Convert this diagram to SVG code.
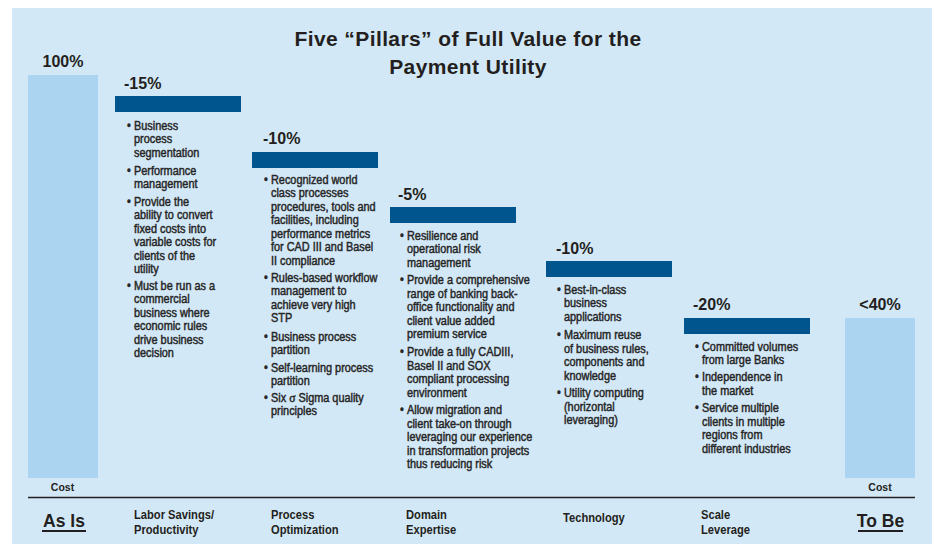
<svg xmlns="http://www.w3.org/2000/svg" width="934" height="546" viewBox="0 0 934 546">
  <defs>
    <style>
      .panel { fill: #D3E8F6; }
      .cost { fill: #AAD4EF; }
      .cut { fill: #00558F; }
      .title { font-family: "Liberation Sans", Arial, sans-serif; font-weight: bold; font-size: 21px; fill: #231F20; text-anchor: middle; letter-spacing: 0.4px; }
      .pct { font-family: "Liberation Sans", Arial, sans-serif; font-weight: bold; font-size: 16px; fill: #231F20; }
      .mid { text-anchor: middle; }
      .txt { font-family: "Liberation Sans", Arial, sans-serif; font-size: 12.1px; fill: #262626; stroke: #262626; stroke-width: 0.45px; }
      .small { font-family: "Liberation Sans", Arial, sans-serif; font-weight: bold; font-size: 10.5px; fill: #231F20; text-anchor: middle; }
      .label { font-family: "Liberation Sans", Arial, sans-serif; font-weight: bold; font-size: 13px; fill: #231F20; }
      .state { font-family: "Liberation Sans", Arial, sans-serif; font-weight: bold; font-size: 17.5px; fill: #231F20; text-anchor: middle; }
      .rule { stroke: #231F20; fill: none; }
      .sym { font-family: "Liberation Serif", serif; font-size: 13px; }
    </style>
  </defs>

  <rect class="panel" x="12" y="8" width="920" height="536"/>

  <g id="title">
    <text class="title" x="468" y="46">Five “Pillars” of Full Value for the</text>
    <text class="title" x="468" y="74">Payment Utility</text>
  </g>

  <g id="as-is">
    <text class="pct mid" x="63" y="66.5">100%</text>
    <rect class="cost" x="28" y="75" width="70" height="403"/>
    <text class="small" x="62.5" y="491">Cost</text>
    <text class="state" x="64" y="527">As Is</text>
    <line class="rule" x1="42" y1="531" x2="86" y2="531" stroke-width="2"/>
  </g>

  <g id="labor-savings">
    <text class="pct" x="124" y="88.5">-15%</text>
    <rect class="cut" x="115" y="96" width="126" height="16"/>
    <g class="txt" transform="translate(134,0) scale(0.9,1) translate(-134,0)">
      <text x="126.2" y="130">•</text>
      <text x="134" y="130">Business</text>
      <text x="134" y="143.5">process</text>
      <text x="134" y="157">segmentation</text>
      <text x="126.2" y="175">•</text>
      <text x="134" y="175">Performance</text>
      <text x="134" y="188.5">management</text>
      <text x="126.2" y="206">•</text>
      <text x="134" y="206">Provide the</text>
      <text x="134" y="219.5">ability to convert</text>
      <text x="134" y="233">fixed costs into</text>
      <text x="134" y="246.5">variable costs for</text>
      <text x="134" y="260">clients of the</text>
      <text x="134" y="273.5">utility</text>
      <text x="126.2" y="290">•</text>
      <text x="134" y="290">Must be run as a</text>
      <text x="134" y="303.5">commercial</text>
      <text x="134" y="317">business where</text>
      <text x="134" y="330.5">economic rules</text>
      <text x="134" y="344">drive business</text>
      <text x="134" y="357.5">decision</text>
    </g>
    <g class="label" transform="translate(134,0) scale(0.86,1) translate(-134,0)">
      <text x="134" y="519">Labor Savings/</text>
      <text x="134" y="534">Productivity</text>
    </g>
  </g>

  <g id="process-optimization">
    <text class="pct" x="263" y="143.5">-10%</text>
    <rect class="cut" x="252" y="152" width="126" height="16"/>
    <g class="txt" transform="translate(271,0) scale(0.9,1) translate(-271,0)">
      <text x="263.2" y="184">•</text>
      <text x="271" y="184">Recognized world</text>
      <text x="271" y="197.5">class processes</text>
      <text x="271" y="211">procedures, tools and</text>
      <text x="271" y="224.5">facilities, including</text>
      <text x="271" y="238">performance metrics</text>
      <text x="271" y="251.5">for CAD III and Basel</text>
      <text x="271" y="265">II compliance</text>
      <text x="263.2" y="282">•</text>
      <text x="271" y="282">Rules-based workflow</text>
      <text x="271" y="295.5">management to</text>
      <text x="271" y="309">achieve very high</text>
      <text x="271" y="322.5">STP</text>
      <text x="263.2" y="341">•</text>
      <text x="271" y="341">Business process</text>
      <text x="271" y="354.5">partition</text>
      <text x="263.2" y="372">•</text>
      <text x="271" y="372">Self-learning process</text>
      <text x="271" y="385.5">partition</text>
      <text x="263.2" y="402">•</text>
      <text x="271" y="402">Six <tspan class="sym">σ</tspan> Sigma quality</text>
      <text x="271" y="415.5">principles</text>
    </g>
    <g class="label" transform="translate(271,0) scale(0.86,1) translate(-271,0)">
      <text x="271" y="519">Process</text>
      <text x="271" y="534">Optimization</text>
    </g>
  </g>

  <g id="domain-expertise">
    <text class="pct" x="398" y="199.5">-5%</text>
    <rect class="cut" x="390" y="207" width="126" height="16"/>
    <g class="txt" transform="translate(407,0) scale(0.9,1) translate(-407,0)">
      <text x="399.2" y="240">•</text>
      <text x="407" y="240">Resilience and</text>
      <text x="407" y="253.5">operational risk</text>
      <text x="407" y="267">management</text>
      <text x="399.2" y="284.5">•</text>
      <text x="407" y="284.5">Provide a comprehensive</text>
      <text x="407" y="298">range of banking back-</text>
      <text x="407" y="311.5">office functionality and</text>
      <text x="407" y="325">client value added</text>
      <text x="407" y="338.5">premium service</text>
      <text x="399.2" y="356.5">•</text>
      <text x="407" y="356.5">Provide a fully CADIII,</text>
      <text x="407" y="370">Basel II and SOX</text>
      <text x="407" y="383.5">compliant processing</text>
      <text x="407" y="397">environment</text>
      <text x="399.2" y="414.5">•</text>
      <text x="407" y="414.5">Allow migration and</text>
      <text x="407" y="428">client take-on through</text>
      <text x="407" y="441.5">leveraging our experience</text>
      <text x="407" y="455">in transformation projects</text>
      <text x="407" y="468.5">thus reducing risk</text>
    </g>
    <g class="label" transform="translate(406,0) scale(0.86,1) translate(-406,0)">
      <text x="406" y="519">Domain</text>
      <text x="406" y="534">Expertise</text>
    </g>
  </g>

  <g id="technology">
    <text class="pct" x="556" y="254">-10%</text>
    <rect class="cut" x="546" y="261" width="126" height="16"/>
    <g class="txt" transform="translate(564,0) scale(0.9,1) translate(-564,0)">
      <text x="556.2" y="294">•</text>
      <text x="564" y="294">Best-in-class</text>
      <text x="564" y="307.5">business</text>
      <text x="564" y="321">applications</text>
      <text x="556.2" y="339.5">•</text>
      <text x="564" y="339.5">Maximum reuse</text>
      <text x="564" y="353">of business rules,</text>
      <text x="564" y="366.5">components and</text>
      <text x="564" y="380">knowledge</text>
      <text x="556.2" y="397.5">•</text>
      <text x="564" y="397.5">Utility computing</text>
      <text x="564" y="411">(horizontal</text>
      <text x="564" y="424.5">leveraging)</text>
    </g>
    <g class="label" transform="translate(563,0) scale(0.86,1) translate(-563,0)">
      <text x="563" y="522">Technology</text>
    </g>
  </g>

  <g id="scale-leverage">
    <text class="pct" x="693" y="310">-20%</text>
    <rect class="cut" x="684" y="318" width="126" height="16"/>
    <g class="txt" transform="translate(702,0) scale(0.9,1) translate(-702,0)">
      <text x="694.2" y="351">•</text>
      <text x="702" y="351">Committed volumes</text>
      <text x="702" y="364.5">from large Banks</text>
      <text x="694.2" y="381.5">•</text>
      <text x="702" y="381.5">Independence in</text>
      <text x="702" y="395">the market</text>
      <text x="694.2" y="412.5">•</text>
      <text x="702" y="412.5">Service multiple</text>
      <text x="702" y="426">clients in multiple</text>
      <text x="702" y="439.5">regions from</text>
      <text x="702" y="453">different industries</text>
    </g>
    <g class="label" transform="translate(701,0) scale(0.86,1) translate(-701,0)">
      <text x="701" y="519">Scale</text>
      <text x="701" y="534">Leverage</text>
    </g>
  </g>

  <g id="to-be">
    <text class="pct mid" x="880" y="310">&lt;40%</text>
    <rect class="cost" x="845" y="318" width="70" height="160"/>
    <text class="small" x="880" y="491">Cost</text>
    <text class="state" x="880.5" y="527">To Be</text>
    <line class="rule" x1="858" y1="531" x2="903" y2="531" stroke-width="2"/>
  </g>

  <g id="connectors">
    <line class="rule" x1="28" y1="497.5" x2="915" y2="497.5" stroke-width="1.6"/>
  </g>
</svg>
